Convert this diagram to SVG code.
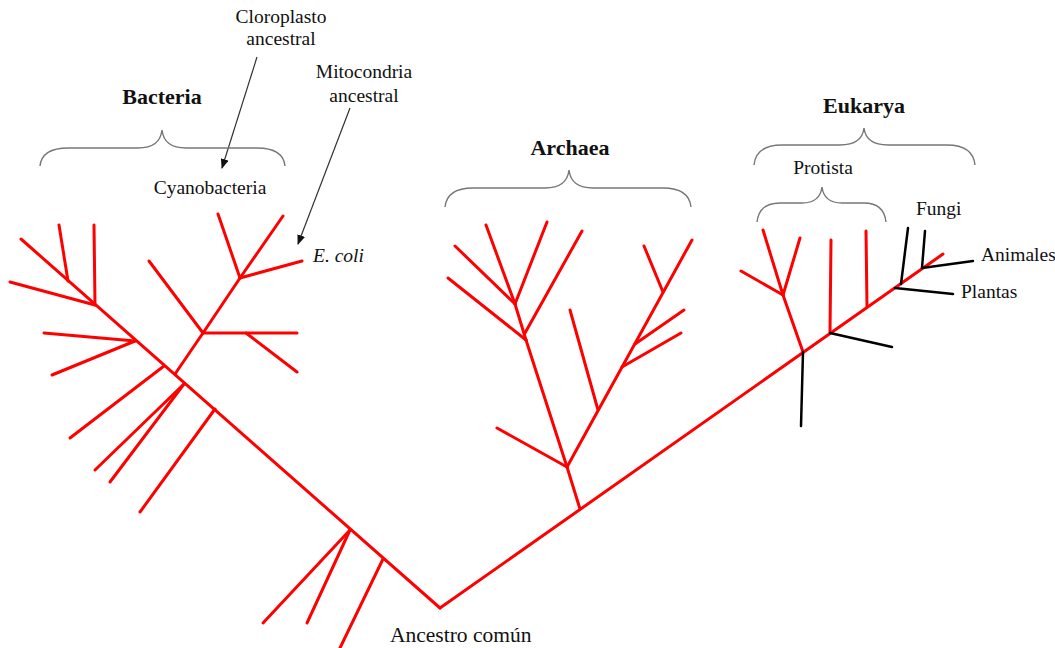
<svg xmlns="http://www.w3.org/2000/svg" width="1055" height="648" viewBox="0 0 1055 648">
<style>
.r{stroke:#ff0000;stroke-width:3;stroke-linecap:round;fill:none}
.k{stroke:#000;stroke-width:2.5;stroke-linecap:round;fill:none}
.br{stroke:#777;stroke-width:1.4;fill:none}
.ar{stroke:#333;stroke-width:1.2;fill:none}
.t{font-family:"Liberation Serif","Times New Roman",serif;font-size:19.5px;fill:#111}
.b{font-family:"Liberation Serif","Times New Roman",serif;font-size:22px;font-weight:bold;fill:#111}
</style>
<defs>
<marker id="ah" viewBox="0 0 10 8" refX="9" refY="4" markerWidth="10" markerHeight="8" markerUnits="userSpaceOnUse" orient="auto">
<path d="M0,0 L10,4 L0,8 z" fill="#111"/>
</marker>
</defs>
<rect width="1055" height="648" fill="#fff"/>

<g id="connectors">
<g id="bacteria-tree">
<line class="r" x1="440" y1="608" x2="21" y2="239"/>
<line class="r" x1="95" y1="305" x2="10" y2="282"/>
<line class="r" x1="95" y1="305" x2="94" y2="225"/>
<line class="r" x1="68" y1="281" x2="59" y2="225"/>
<line class="r" x1="135" y1="341" x2="44" y2="333"/>
<line class="r" x1="135" y1="341" x2="52" y2="375"/>
<line class="r" x1="175" y1="374" x2="203" y2="333"/>
<line class="r" x1="203" y1="333" x2="149" y2="261"/>
<line class="r" x1="203" y1="333" x2="297" y2="333"/>
<line class="r" x1="246" y1="333" x2="297" y2="372"/>
<line class="r" x1="203" y1="333" x2="240" y2="278"/>
<line class="r" x1="240" y1="278" x2="218" y2="214"/>
<line class="r" x1="240" y1="278" x2="283" y2="216"/>
<line class="r" x1="240" y1="278" x2="302" y2="261"/>
<line class="r" x1="164" y1="366" x2="70" y2="438"/>
<line class="r" x1="184" y1="384" x2="95" y2="470"/>
<line class="r" x1="184" y1="384" x2="110" y2="482"/>
<line class="r" x1="215" y1="409" x2="140" y2="512"/>
<line class="r" x1="350" y1="530" x2="263" y2="623"/>
<line class="r" x1="350" y1="530" x2="307" y2="623"/>
<line class="r" x1="383" y1="559" x2="340" y2="648"/>
</g>
<g id="archaea-tree">
<line class="r" x1="440" y1="608" x2="943" y2="254"/>
<line class="r" x1="580" y1="509" x2="567" y2="467"/>
<line class="r" x1="567" y1="467" x2="497" y2="428"/>
<line class="r" x1="567" y1="467" x2="526" y2="340"/>
<line class="r" x1="567" y1="467" x2="692" y2="240"/>
<line class="r" x1="598" y1="410" x2="570" y2="310"/>
<line class="r" x1="622" y1="367" x2="681" y2="333"/>
<line class="r" x1="635" y1="344" x2="684" y2="310"/>
<line class="r" x1="663" y1="292" x2="644" y2="246"/>
<line class="r" x1="526" y1="340" x2="448" y2="278"/>
<line class="r" x1="526" y1="340" x2="515" y2="304"/>
<line class="r" x1="515" y1="304" x2="455" y2="246"/>
<line class="r" x1="515" y1="304" x2="486" y2="225"/>
<line class="r" x1="515" y1="304" x2="547" y2="222"/>
<line class="r" x1="525" y1="333" x2="582" y2="231"/>
</g>
<g id="eukarya-tree">
<line class="r" x1="803" y1="352" x2="783" y2="295"/>
<line class="r" x1="783" y1="295" x2="741" y2="271"/>
<line class="r" x1="783" y1="295" x2="763" y2="230"/>
<line class="r" x1="783" y1="295" x2="800" y2="238"/>
<line class="r" x1="830" y1="333" x2="831" y2="240"/>
<line class="r" x1="867" y1="307" x2="866" y2="231"/>
<line class="k" x1="803" y1="352" x2="801" y2="426"/>
<line class="k" x1="830" y1="333" x2="892" y2="347"/>
<line class="k" x1="895" y1="288" x2="953" y2="294"/>
<line class="k" x1="901" y1="284" x2="908" y2="228"/>
<line class="k" x1="922" y1="268" x2="925" y2="231"/>
<line class="k" x1="922" y1="268" x2="973" y2="261"/>
</g>
<g id="arrows">
<line class="ar" x1="257" y1="57" x2="222" y2="168" marker-end="url(#ah)"/>
<line class="ar" x1="350" y1="108" x2="298" y2="244" marker-end="url(#ah)"/>
</g>
</g>

<g id="braces">
<path id="brace-bacteria" class="br" d="M40,166 Q42,148 68,148 L138,148 Q160,148 162,130 Q164,148 186,148 L257,148 Q283,148 285,166"/>
<path id="brace-archaea" class="br" d="M445,207 Q447,188 473,188 L545,188 Q567,188 569,170 Q571,188 593,188 L663,188 Q689,188 691,207"/>
<path id="brace-eukarya" class="br" d="M754,165 Q756,145 782,145 L840,145 Q862,145 864,128 Q866,145 888,145 L947,145 Q973,145 975,165"/>
<path id="brace-protista" class="br" d="M757,222 Q759,203 780,203 L802,203 Q820,203 822,187 Q824,203 842,203 L864,203 Q884,203 886,222"/>
</g>

<g id="node-bacteria"><text class="b" x="162" y="104" text-anchor="middle">Bacteria</text></g>
<g id="node-archaea"><text class="b" x="570" y="155" text-anchor="middle">Archaea</text></g>
<g id="node-eukarya"><text class="b" x="864" y="113" text-anchor="middle">Eukarya</text></g>
<g id="node-cloroplasto"><text class="t" x="281" y="23" text-anchor="middle">Cloroplasto</text><text class="t" x="281" y="45" text-anchor="middle">ancestral</text></g>
<g id="node-mitocondria"><text class="t" x="364" y="78" text-anchor="middle">Mitocondria</text><text class="t" x="364" y="102" text-anchor="middle">ancestral</text></g>
<g id="node-cyanobacteria"><text class="t" x="210" y="194" text-anchor="middle">Cyanobacteria</text></g>
<g id="node-ecoli"><text class="t" x="313" y="262" font-style="italic">E. coli</text></g>
<g id="node-protista"><text class="t" x="823" y="174" text-anchor="middle">Protista</text></g>
<g id="node-fungi"><text class="t" x="916" y="215">Fungi</text></g>
<g id="node-animales"><text class="t" x="981" y="261">Animales</text></g>
<g id="node-plantas"><text class="t" x="961" y="298">Plantas</text></g>
<g id="node-ancestro"><text class="t" x="390" y="642" style="font-size:21.5px">Ancestro común</text></g>
</svg>
